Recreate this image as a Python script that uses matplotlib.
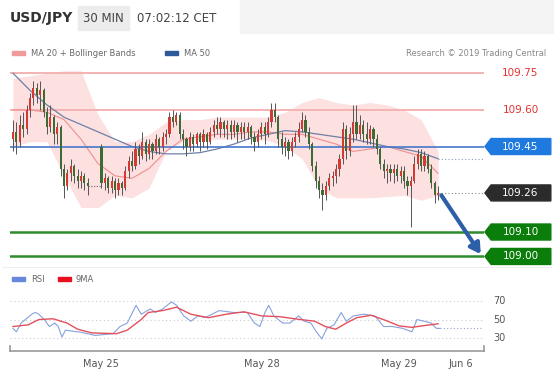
import matplotlib.pyplot as plt
from matplotlib.patches import Rectangle, Polygon
from matplotlib.transforms import blended_transform_factory

# ---------------------------------------------------------------------------
# data (30 min candles, None = weekend gap)
opens = [109.48, 109.51, 109.47, 109.54, 109.52, 109.60, 109.65, 109.69, 109.66, 109.68,
         109.59, 109.53, 109.57, 109.50, 109.53, 109.36, 109.29, 109.34, 109.37, 109.33,
         109.31, 109.33, 109.30, None, None, None, 109.45, 109.30, 109.32, 109.28,
         109.31, 109.27, 109.30, 109.28, 109.35, 109.39, 109.37, 109.44, 109.41, 109.47,
         109.42, 109.46, 109.43, 109.48, 109.45, 109.49, 109.50, 109.57, 109.55, 109.58,
         109.50, 109.48, 109.45, 109.49, 109.46, 109.50, 109.47, 109.50, 109.47, 109.51,
         109.54, 109.52, 109.55, 109.52, 109.54, 109.51, 109.54, 109.51, 109.53, 109.51,
         109.53, 109.49, 109.47, 109.50, 109.53, 109.50, 109.55, 109.60, 109.57, 109.48,
         109.45, 109.47, 109.43, 109.47, 109.49, 109.52, 109.56, 109.51, 109.46, 109.37,
         109.31, 109.27, 109.25, 109.29, 109.32, 109.33, 109.36, 109.40, 109.52, 109.43,
         109.50, 109.55, 109.50, 109.54, 109.50, 109.48, 109.52, 109.48, 109.44, 109.38,
         109.35, 109.36, 109.34, 109.36, 109.33, 109.35, 109.31, 109.29, 109.31, 109.38,
         109.42, 109.37, 109.41, 109.36, 109.30, 109.25]
highs = [109.56, 109.55, 109.58, 109.59, 109.62, 109.67, 109.72, 109.71, 109.72, 109.69,
         109.61, 109.62, 109.58, 109.55, 109.54, 109.38, 109.36, 109.40, 109.38, 109.36,
         109.35, 109.34, 109.32, None, None, None, 109.46, 109.34, 109.33, 109.33,
         109.32, 109.32, 109.31, 109.37, 109.41, 109.43, 109.47, 109.46, 109.51, 109.48,
         109.48, 109.47, 109.50, 109.49, 109.51, 109.52, 109.59, 109.60, 109.59, 109.59,
         109.52, 109.49, 109.51, 109.50, 109.51, 109.51, 109.52, 109.51, 109.53, 109.56,
         109.57, 109.57, 109.56, 109.56, 109.56, 109.56, 109.55, 109.55, 109.55, 109.55,
         109.54, 109.51, 109.52, 109.55, 109.55, 109.57, 109.63, 109.63, 109.58, 109.51,
         109.49, 109.48, 109.49, 109.51, 109.55, 109.59, 109.58, 109.53, 109.47, 109.39,
         109.33, 109.30, 109.31, 109.34, 109.35, 109.38, 109.42, 109.55, 109.54, 109.53,
         109.62, 109.62, 109.58, 109.56, 109.55, 109.54, 109.53, 109.50, 109.45, 109.40,
         109.38, 109.38, 109.38, 109.38, 109.37, 109.37, 109.33, 109.33, 109.41, 109.44,
         109.44, 109.43, 109.42, 109.38, 109.31, 109.29]
lows = [109.43, 109.42, 109.45, 109.49, 109.50, 109.57, 109.62, 109.63, 109.60, 109.57,
        109.50, 109.51, 109.46, 109.46, 109.33, 109.24, 109.27, 109.31, 109.30, 109.28,
        109.28, 109.27, 109.25, None, None, None, 109.28, 109.27, 109.26, 109.26,
        109.24, 109.25, 109.25, 109.27, 109.32, 109.35, 109.36, 109.38, 109.40, 109.39,
        109.40, 109.40, 109.42, 109.42, 109.43, 109.46, 109.49, 109.53, 109.54, 109.48,
        109.44, 109.41, 109.43, 109.43, 109.45, 109.43, 109.45, 109.44, 109.46, 109.49,
        109.50, 109.49, 109.49, 109.48, 109.48, 109.49, 109.47, 109.48, 109.48, 109.48,
        109.46, 109.43, 109.45, 109.48, 109.46, 109.49, 109.53, 109.55, 109.45, 109.42,
        109.41, 109.40, 109.41, 109.45, 109.47, 109.51, 109.49, 109.44, 109.35, 109.28,
        109.24, 109.19, 109.23, 109.27, 109.29, 109.30, 109.33, 109.38, 109.40, 109.41,
        109.47, 109.48, 109.48, 109.47, 109.46, 109.46, 109.45, 109.42, 109.36, 109.32,
        109.30, 109.31, 109.30, 109.31, 109.30, 109.28, 109.25, 109.12, 109.30, 109.36,
        109.35, 109.35, 109.34, 109.28, 109.22, 109.23]
closes = [109.51, 109.47, 109.54, 109.52, 109.60, 109.65, 109.69, 109.66, 109.68, 109.59,
          109.53, 109.57, 109.50, 109.53, 109.36, 109.29, 109.34, 109.37, 109.33, 109.31,
          109.33, 109.30, 109.29, None, None, None, 109.30, 109.32, 109.28, 109.31,
          109.27, 109.30, 109.28, 109.35, 109.39, 109.37, 109.44, 109.41, 109.47, 109.42,
          109.46, 109.43, 109.48, 109.45, 109.49, 109.50, 109.57, 109.55, 109.58, 109.50,
          109.48, 109.45, 109.49, 109.46, 109.50, 109.47, 109.50, 109.47, 109.51, 109.54,
          109.52, 109.55, 109.52, 109.54, 109.51, 109.54, 109.51, 109.53, 109.51, 109.53,
          109.49, 109.47, 109.50, 109.53, 109.50, 109.55, 109.60, 109.57, 109.48, 109.45,
          109.47, 109.43, 109.47, 109.49, 109.52, 109.56, 109.51, 109.46, 109.37, 109.31,
          109.27, 109.25, 109.29, 109.32, 109.33, 109.36, 109.40, 109.52, 109.43, 109.50,
          109.55, 109.50, 109.54, 109.50, 109.48, 109.52, 109.48, 109.44, 109.38, 109.35,
          109.36, 109.34, 109.36, 109.33, 109.35, 109.31, 109.29, 109.31, 109.38, 109.42,
          109.37, 109.41, 109.36, 109.30, 109.25, 109.26]

# moving averages / bands, sampled every 5 candles
ma_x = [0, 5, 10, 15, 20, 25, 30, 35, 40, 45, 50, 55, 60, 65, 70, 75, 80, 85, 90, 95,
        100, 105, 110, 115, 120, 125]
bb_upper = [109.73, 109.74, 109.75, 109.76, 109.76, 109.58, 109.47, 109.47, 109.50, 109.55,
            109.56, 109.56, 109.57, 109.57, 109.57, 109.57, 109.59, 109.63, 109.65, 109.63,
            109.62, 109.63, 109.62, 109.60, 109.56, 109.43]
bb_lower = [109.45, 109.47, 109.47, 109.33, 109.20, 109.20, 109.25, 109.24, 109.28, 109.43,
            109.47, 109.48, 109.48, 109.48, 109.48, 109.475, 109.45, 109.40, 109.28, 109.24,
            109.24, 109.24, 109.245, 109.25, 109.23, 109.25]
ma20 = [109.60, 109.60, 109.59, 109.56, 109.48, 109.38, 109.33, 109.32, 109.36, 109.43,
        109.48, 109.49, 109.50, 109.50, 109.51, 109.51, 109.50, 109.50, 109.48, 109.46,
        109.43, 109.44, 109.45, 109.43, 109.41, 109.34]
ma50 = [109.75, 109.68, 109.62, 109.57, 109.54, 109.51, 109.48, 109.45, 109.43, 109.42,
        109.42, 109.425, 109.44, 109.46, 109.485, 109.50, 109.515, 109.51, 109.50, 109.49,
        109.48, 109.465, 109.45, 109.44, 109.425, 109.40]

# RSI panel
rsi_x = [0, 1, 2.4, 5.5, 6.6, 7.6, 9.2, 10.7, 12.3, 13.3, 14.4, 15.4, 20, 24.2, 29.4, 31.5,
         33.6, 36.2, 37.7, 40.4, 41.9, 44, 46.6, 48.1, 50.2, 52.3, 54.4, 56.5, 60.6, 64.8,
         68.9, 71, 72.6, 74.1, 75.2, 76.7, 79.3, 81.4, 84, 85.6, 87.6, 89.2, 90.8, 92.3,
         94.4, 96.5, 98, 100.1, 103.2, 106.4, 109, 111.5, 114.6, 117.3, 118.8, 120.9, 123,
         124.5, 125.6]
rsi = [40.7, 37.0, 46.4, 55.9, 57.8, 55.9, 50.2, 42.7, 46.4, 42.7, 31.3, 38.8, 36.5, 33.1,
       35.0, 42.7, 46.4, 65.5, 55.9, 61.6, 57.8, 61.6, 69.2, 65.5, 54.1, 48.4, 54.1, 52.2,
       59.8, 57.8, 57.8, 46.4, 42.7, 57.8, 65.5, 54.1, 46.4, 46.4, 54.1, 48.4, 46.4, 37.0,
       29.4, 40.7, 44.5, 57.8, 48.4, 54.1, 55.9, 54.1, 42.7, 42.7, 40.7, 37.0, 50.2, 48.4,
       46.4, 40.7, 40.7]
rsi_ma_x = [0, 4.5, 7.6, 11.8, 15.9, 19, 23.2, 30.5, 33.6, 37.7, 39.8, 44, 48.1, 52.3,
            57.5, 62.7, 67.9, 73.1, 78.3, 84.5, 88.7, 91.8, 94.9, 98, 101.1, 105.3, 109.5,
            113.6, 117.3, 120.9, 125]
rsi_ma = [42.7, 44.5, 50.2, 51.0, 46.4, 39.8, 35.8, 35.0, 38.8, 50.2, 57.8, 59.8, 63.5,
          55.9, 52.2, 55.9, 58.5, 54.1, 53.3, 50.2, 48.4, 42.7, 39.8, 46.4, 52.2, 54.8,
          49.4, 43.3, 41.8, 43.7, 45.6]
rsi_levels = [30, 50, 70]

date_ticks = [25.8, 73.1, 113.6, 131.8]
date_labels = ['May 25', 'May 28', 'May 29', 'Jun 6']

res_levels = [109.75, 109.60]      # red text only
pivot = 109.45                     # blue box
last_price = 109.26                # dark box
sup_levels = [109.10, 109.00]      # green boxes
# ---------------------------------------------------------------------------

W, H = 554, 376
RED = '#d23a33'
GREEN = '#3d6b34'


def fx(px):
    return px / W


def fy(py):
    return 1 - py / H


fig = plt.figure(figsize=(W / 100, H / 100), dpi=100)
fig.patch.set_facecolor('white')

# header
fig.patches.append(Rectangle((fx(240), fy(33)), 1, 33 / H, transform=fig.transFigure,
                             color='#f4f4f4', zorder=0))
fig.text(fx(10), fy(18), 'USD/JPY', fontsize=10, fontweight='bold', color='#333333',
         va='center')
fig.patches.append(Rectangle((fx(78), fy(30)), 51 / W, 24 / H, transform=fig.transFigure,
                             color='#ececec', zorder=0))
fig.text(fx(103.5), fy(18), '30 MIN', fontsize=8.5, color='#444444', ha='center', va='center')
fig.text(fx(137), fy(18), '07:02:12 CET', fontsize=8.5, color='#444444', va='center')

# legend row
fig.patches.append(Rectangle((fx(12), fy(55)), 13 / W, 4 / H, transform=fig.transFigure,
                             color='#f29a9a'))
fig.text(fx(31), fy(53), 'MA 20 + Bollinger Bands', fontsize=6, color='#666666', va='center')
fig.patches.append(Rectangle((fx(165), fy(55)), 13 / W, 4 / H, transform=fig.transFigure,
                             color='#2d5a9a'))
fig.text(fx(184), fy(53), 'MA 50', fontsize=6, color='#666666', va='center')
fig.text(fx(546), fy(53), 'Research \u00a9 2019 Trading Central', fontsize=6,
         color='#888888', va='center', ha='right')

# main price panel
ax = fig.add_axes([fx(10), fy(265), 474 / W, 203 / H])
ax.set_xlim(-0.88, 138.5)
ax.set_ylim(108.965, 109.796)
ax.axis('off')

ax.fill_between(ma_x, bb_lower, bb_upper, color='#fde0e0', lw=0, zorder=1)
ax.plot(ma_x, ma20, color='#ef8f8f', lw=0.8, zorder=2)
ax.plot(ma_x, ma50, color='#6f80a8', lw=0.9, zorder=2)

for lv in res_levels:
    ax.axhline(lv, color='#f5b3b3', lw=1.4, zorder=1)
ax.axhline(pivot, color='#4677cc', lw=1.2, zorder=2)
for lv in sup_levels:
    ax.axhline(lv, color='#2e8b2e', lw=1.8, zorder=2)

for i in range(len(closes)):
    o, h, l, c = opens[i], highs[i], lows[i], closes[i]
    if c is None:
        continue
    col = RED if c > o else GREEN
    ax.vlines(i, l, h, color='#555555', lw=0.7, zorder=3)
    ax.add_patch(Rectangle((i - 0.32, min(o, c)), 0.64, max(abs(c - o), 0.004),
                           color=col, lw=0, zorder=4))

# weekend gap
ax.plot([22, 26], [closes[22], closes[22]], color='#666666', ls=(0, (1, 1.5)), lw=0.8,
        zorder=3)

# leaders to the right-hand labels
n = len(closes) - 1
ax.plot([n, 138.2], [ma50[-1], ma50[-1]], color='#8c9ab8', ls=(0, (1, 2)), lw=0.8)
ax.plot([n, 138.2], [last_price, last_price], color='#888888', ls=(0, (1, 2)), lw=0.8)

ax.annotate('', xy=(138.0, sup_levels[-1]), xytext=(n + 0.5, last_price),
            arrowprops=dict(arrowstyle='-|>,head_width=0.35,head_length=0.6',
                            color='#2d5ea8', lw=3), zorder=6)

tr = blended_transform_factory(ax.transAxes, ax.transData)
box_h = 16 / 244.3
x0, x1, tip = 1.002, 1.141, 0.013


def tag(y, face, label):
    pts = [(x0, y), (x0 + tip, y + box_h / 2), (x1, y + box_h / 2),
           (x1, y - box_h / 2), (x0 + tip, y - box_h / 2)]
    ax.add_patch(Polygon(pts, closed=True, transform=tr, color=face, clip_on=False,
                         zorder=7))
    ax.text(1.077, y, label, transform=tr, color='white', fontsize=7.5, ha='center',
            va='center', clip_on=False, zorder=8)


for lv in res_levels:
    ax.text(1.077, lv, f'{lv:.2f}', transform=tr, color='#e53030', fontsize=7.5,
            ha='center', va='center', clip_on=False)
tag(pivot, '#1f7ae0', f'{pivot:.2f}')
tag(last_price, '#2b2b2b', f'{last_price:.2f}')
for lv in sup_levels:
    tag(lv, '#0b7d0b', f'{lv:.2f}')

# separator
fig.add_artist(plt.Line2D([fx(3), fx(551)], [fy(267), fy(267)], color='#eeeeee', lw=0.8))

# RSI legend
fig.patches.append(Rectangle((fx(12), fy(281)), 13 / W, 4 / H, transform=fig.transFigure,
                             color='#6688dd'))
fig.text(fx(31), fy(279), 'RSI', fontsize=6, color='#666666', va='center')
fig.patches.append(Rectangle((fx(58), fy(281)), 13 / W, 4 / H, transform=fig.transFigure,
                             color='#e8101e'))
fig.text(fx(76), fy(279), '9MA', fontsize=6, color='#666666', va='center')

# RSI panel
ax2 = fig.add_axes([fx(10), fy(350.6), 474 / W, 62.6 / H])
ax2.set_xlim(-0.88, 138.5)
ax2.set_ylim(16.8, 84.1)
for s in ['top', 'left', 'right']:
    ax2.spines[s].set_visible(False)
ax2.spines['bottom'].set_color('#999999')
ax2.spines['bottom'].set_linewidth(1.2)
ax2.plot([0, 0], [0, 0.08], transform=ax2.transAxes, color='#999999', lw=1.2,
         clip_on=False)
ax2.plot([1, 1], [0, 0.08], transform=ax2.transAxes, color='#999999', lw=1.2,
         clip_on=False)
for lv in rsi_levels:
    ax2.axhline(lv, color='#cccccc', ls=(0, (1, 2.5)), lw=0.8)
    ax2.text(1.032, lv, str(lv), transform=blended_transform_factory(ax2.transAxes,
             ax2.transData), fontsize=7, color='#555555', ha='center', va='center')
ax2.plot(rsi_x, rsi, color='#86a2dc', lw=0.8)
ax2.plot(rsi_ma_x, rsi_ma, color='#e4505c', lw=1.0)
ax2.plot([rsi_x[-1], 138.0], [rsi[-1], rsi[-1]], color='#9aa6c8', ls=(0, (1, 2)), lw=0.8)
ax2.set_yticks([])
ax2.set_xticks(date_ticks)
ax2.set_xticklabels(date_labels, fontsize=7, color='#555555')
ax2.tick_params(axis='x', length=0, pad=6)

fig.savefig('out.png', dpi=100)
